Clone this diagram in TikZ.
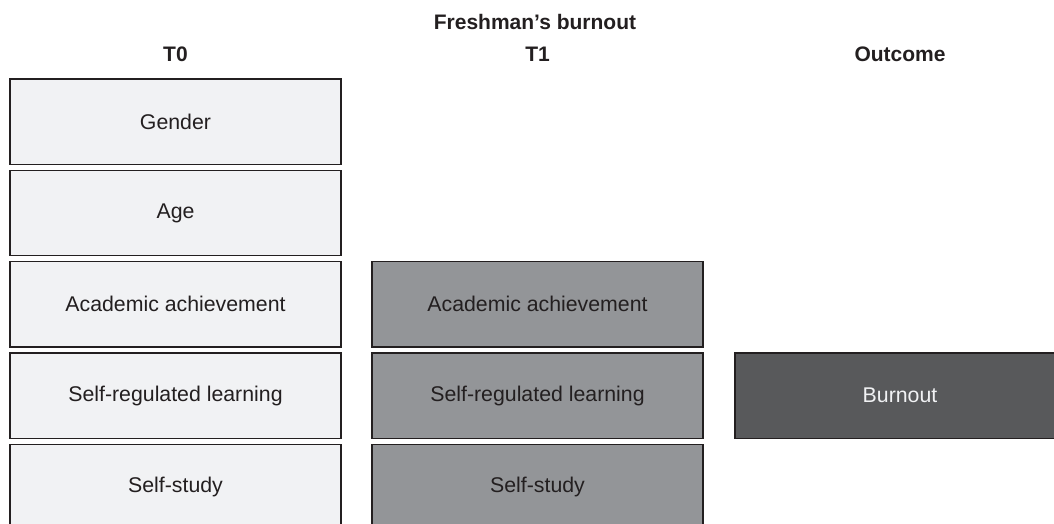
\documentclass[tikz,border=0pt]{standalone}
\usepackage{fontspec}
\setmainfont{Liberation Sans}
\definecolor{lightbox}{HTML}{F1F2F4}
\definecolor{midbox}{HTML}{939598}
\definecolor{darkbox}{HTML}{58595B}
\definecolor{edgecol}{HTML}{231F20}
\begin{document}
\begin{tikzpicture}[x=1pt,y=-1pt,
  box/.style={draw=edgecol, line width=1.3pt, minimum width=331pt, minimum height=85.5pt,
    inner sep=0pt, outer sep=0pt, font=\fontsize{21.3}{25}\selectfont, text=edgecol},
  t0box/.style={box, fill=lightbox},
  t1box/.style={box, fill=midbox},
  outbox/.style={box, fill=darkbox, text=lightbox, minimum width=330pt},
  head/.style={font=\bfseries\fontsize{21}{25}\selectfont, text=edgecol, anchor=base, inner sep=0pt}]
\useasboundingbox (0,0) rectangle (1054,524);
\clip (0,0) rectangle (1054,524);
\node[head] (title) at (535,30) {Freshman’s burnout};
\node[head] (h0) at (175.5,62) {T0};
\node[head] (h1) at (537.5,62) {T1};
\node[head] (h2) at (900,62) {Outcome};
\node[t0box] (gender) at (175.5,121.75) {Gender};
\node[t0box] (age) at (175.5,213.05) {Age};
\node[t0box] (acad0) at (175.5,304.35) {Academic achievement};
\node[t0box] (srl0) at (175.5,395.65) {Self-regulated learning};
\node[t0box] (ss0) at (175.5,487) {Self-study};
\node[t1box] (acad1) at (537.5,304.35) {Academic achievement};
\node[t1box] (srl1) at (537.5,395.65) {Self-regulated learning};
\node[t1box] (ss1) at (537.5,487) {Self-study};
\node[outbox] (burn) at (900,395.65) {Burnout};
\end{tikzpicture}
\end{document}
